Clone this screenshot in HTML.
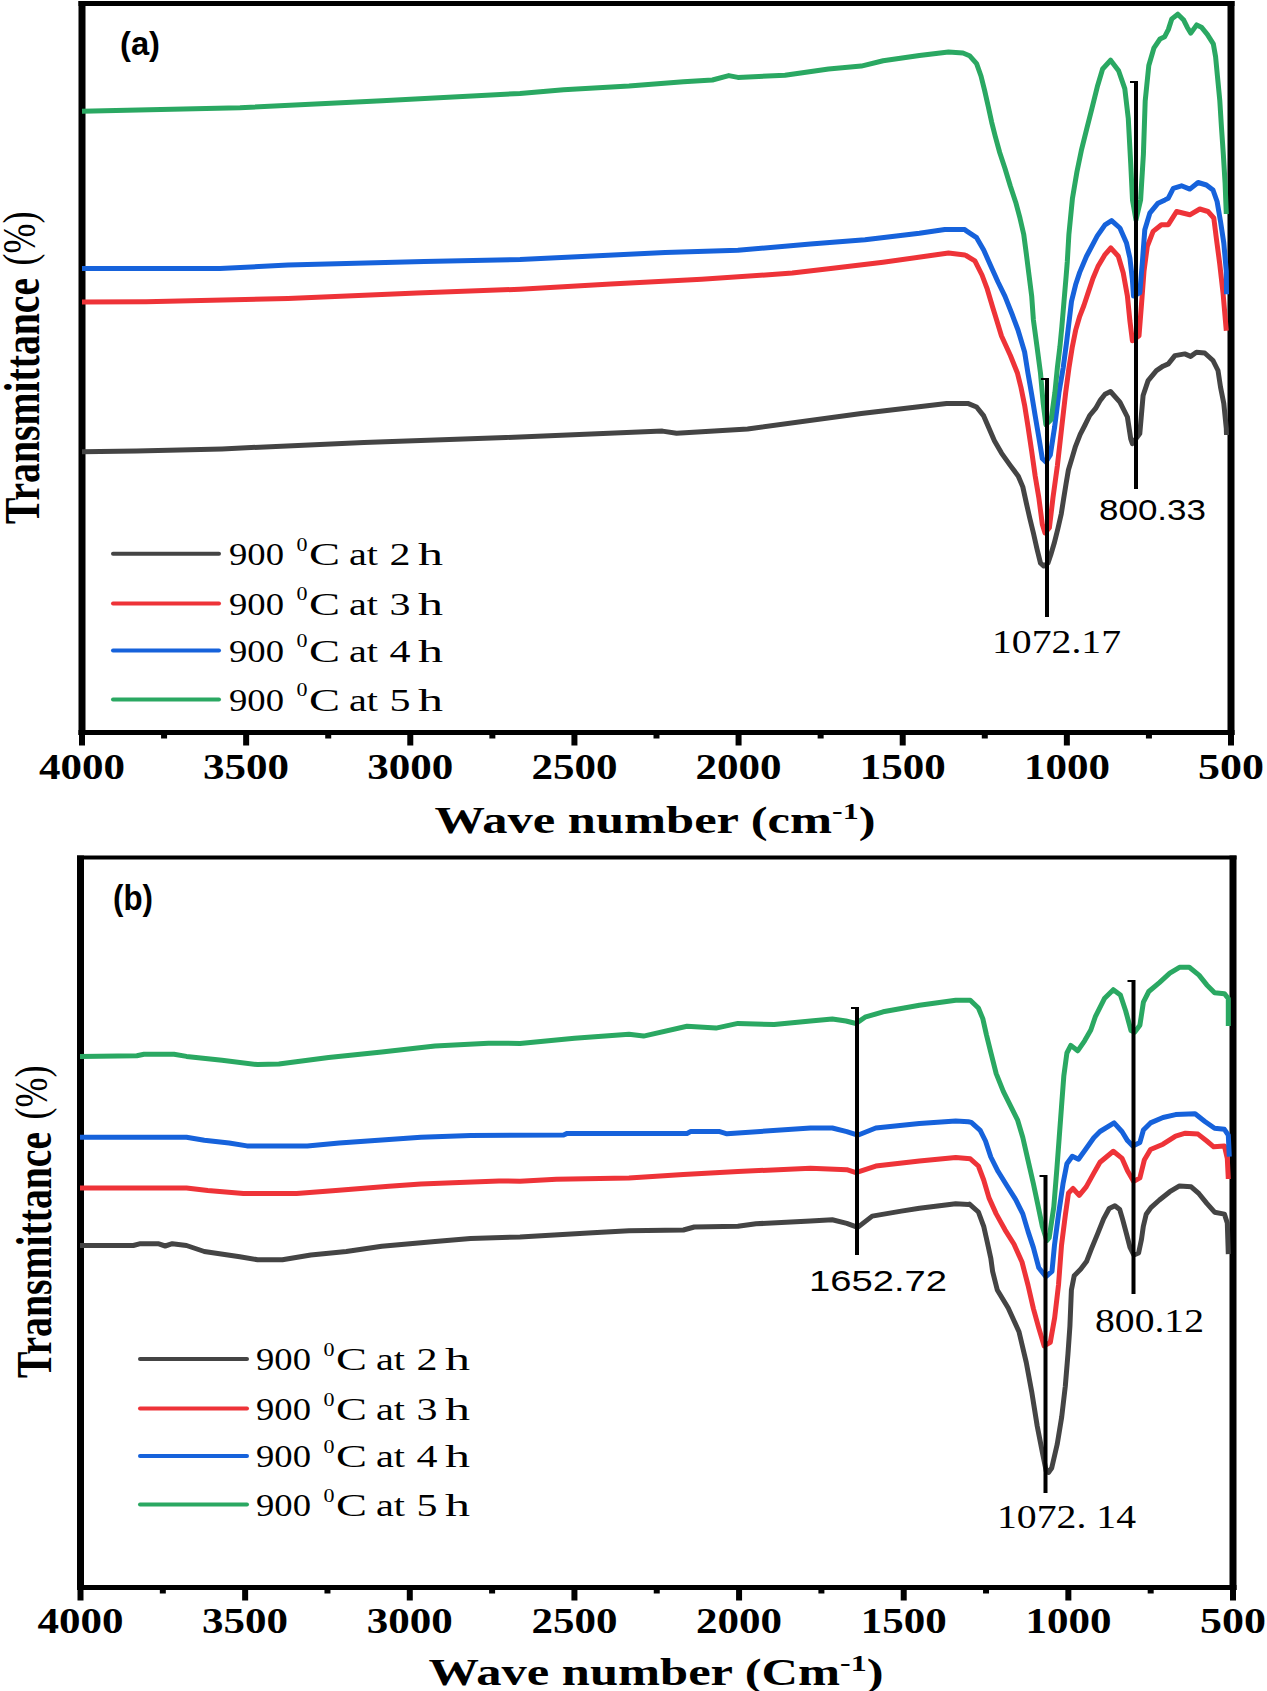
<!DOCTYPE html>
<html><head><meta charset="utf-8"><style>
html,body{margin:0;padding:0;background:#fff;}
svg{display:block;}
</style></head><body>
<svg width="1267" height="1691" viewBox="0 0 1267 1691">
<rect width="1267" height="1691" fill="#fff"/>
<rect x="78.5" y="1.0" width="7" height="734.0" fill="#000"/>
<rect x="1227.5" y="1.0" width="7" height="734.0" fill="#000"/>
<rect x="78.5" y="1.0" width="1156" height="5" fill="#000"/>
<rect x="78.5" y="730.0" width="1156" height="5" fill="#000"/>
<rect x="79.0" y="732.5" width="6" height="13" fill="#000"/>
<text x="82.0" y="779" text-anchor="middle" font-family="Liberation Serif" font-weight="bold" font-size="35" textLength="86" lengthAdjust="spacingAndGlyphs">4000</text>
<rect x="161.07142857142856" y="732.5" width="6" height="6" fill="#000"/>
<rect x="243.14285714285714" y="732.5" width="6" height="13" fill="#000"/>
<text x="246.1" y="779" text-anchor="middle" font-family="Liberation Serif" font-weight="bold" font-size="35" textLength="86" lengthAdjust="spacingAndGlyphs">3500</text>
<rect x="325.2142857142857" y="732.5" width="6" height="6" fill="#000"/>
<rect x="407.2857142857143" y="732.5" width="6" height="13" fill="#000"/>
<text x="410.3" y="779" text-anchor="middle" font-family="Liberation Serif" font-weight="bold" font-size="35" textLength="86" lengthAdjust="spacingAndGlyphs">3000</text>
<rect x="489.35714285714283" y="732.5" width="6" height="6" fill="#000"/>
<rect x="571.4285714285714" y="732.5" width="6" height="13" fill="#000"/>
<text x="574.4" y="779" text-anchor="middle" font-family="Liberation Serif" font-weight="bold" font-size="35" textLength="86" lengthAdjust="spacingAndGlyphs">2500</text>
<rect x="653.5" y="732.5" width="6" height="6" fill="#000"/>
<rect x="735.5714285714286" y="732.5" width="6" height="13" fill="#000"/>
<text x="738.6" y="779" text-anchor="middle" font-family="Liberation Serif" font-weight="bold" font-size="35" textLength="86" lengthAdjust="spacingAndGlyphs">2000</text>
<rect x="817.6428571428571" y="732.5" width="6" height="6" fill="#000"/>
<rect x="899.7142857142857" y="732.5" width="6" height="13" fill="#000"/>
<text x="902.7" y="779" text-anchor="middle" font-family="Liberation Serif" font-weight="bold" font-size="35" textLength="86" lengthAdjust="spacingAndGlyphs">1500</text>
<rect x="981.7857142857142" y="732.5" width="6" height="6" fill="#000"/>
<rect x="1063.857142857143" y="732.5" width="6" height="13" fill="#000"/>
<text x="1066.9" y="779" text-anchor="middle" font-family="Liberation Serif" font-weight="bold" font-size="35" textLength="86" lengthAdjust="spacingAndGlyphs">1000</text>
<rect x="1145.9285714285716" y="732.5" width="6" height="6" fill="#000"/>
<rect x="1228.0" y="732.5" width="6" height="13" fill="#000"/>
<text x="1231.0" y="779" text-anchor="middle" font-family="Liberation Serif" font-weight="bold" font-size="35" textLength="66" lengthAdjust="spacingAndGlyphs">500</text>
<rect x="77.0" y="855.5" width="7" height="734.5" fill="#000"/>
<rect x="1229.5" y="855.5" width="7" height="734.5" fill="#000"/>
<rect x="77.0" y="855.5" width="1159.5" height="4" fill="#000"/>
<rect x="77.0" y="1585.0" width="1159.5" height="5" fill="#000"/>
<rect x="77.5" y="1587.5" width="6" height="13" fill="#000"/>
<text x="80.5" y="1633" text-anchor="middle" font-family="Liberation Serif" font-weight="bold" font-size="35" textLength="86" lengthAdjust="spacingAndGlyphs">4000</text>
<rect x="159.82142857142856" y="1587.5" width="6" height="6" fill="#000"/>
<rect x="242.14285714285714" y="1587.5" width="6" height="13" fill="#000"/>
<text x="245.1" y="1633" text-anchor="middle" font-family="Liberation Serif" font-weight="bold" font-size="35" textLength="86" lengthAdjust="spacingAndGlyphs">3500</text>
<rect x="324.4642857142857" y="1587.5" width="6" height="6" fill="#000"/>
<rect x="406.7857142857143" y="1587.5" width="6" height="13" fill="#000"/>
<text x="409.8" y="1633" text-anchor="middle" font-family="Liberation Serif" font-weight="bold" font-size="35" textLength="86" lengthAdjust="spacingAndGlyphs">3000</text>
<rect x="489.10714285714283" y="1587.5" width="6" height="6" fill="#000"/>
<rect x="571.4285714285714" y="1587.5" width="6" height="13" fill="#000"/>
<text x="574.4" y="1633" text-anchor="middle" font-family="Liberation Serif" font-weight="bold" font-size="35" textLength="86" lengthAdjust="spacingAndGlyphs">2500</text>
<rect x="653.75" y="1587.5" width="6" height="6" fill="#000"/>
<rect x="736.0714285714286" y="1587.5" width="6" height="13" fill="#000"/>
<text x="739.1" y="1633" text-anchor="middle" font-family="Liberation Serif" font-weight="bold" font-size="35" textLength="86" lengthAdjust="spacingAndGlyphs">2000</text>
<rect x="818.3928571428571" y="1587.5" width="6" height="6" fill="#000"/>
<rect x="900.7142857142857" y="1587.5" width="6" height="13" fill="#000"/>
<text x="903.7" y="1633" text-anchor="middle" font-family="Liberation Serif" font-weight="bold" font-size="35" textLength="86" lengthAdjust="spacingAndGlyphs">1500</text>
<rect x="983.0357142857142" y="1587.5" width="6" height="6" fill="#000"/>
<rect x="1065.357142857143" y="1587.5" width="6" height="13" fill="#000"/>
<text x="1068.4" y="1633" text-anchor="middle" font-family="Liberation Serif" font-weight="bold" font-size="35" textLength="86" lengthAdjust="spacingAndGlyphs">1000</text>
<rect x="1147.6785714285716" y="1587.5" width="6" height="6" fill="#000"/>
<rect x="1230.0" y="1587.5" width="6" height="13" fill="#000"/>
<text x="1233.0" y="1633" text-anchor="middle" font-family="Liberation Serif" font-weight="bold" font-size="35" textLength="66" lengthAdjust="spacingAndGlyphs">500</text>
<polyline points="82.0,451.7 136.8,451.0 222.0,448.9 364.0,442.5 506.0,437.5 662.4,431.1 676.6,433.3 747.6,429.0 861.3,413.4 946.6,403.4 967.8,403.4 976.6,407.0 983.7,415.9 989.0,428.3 994.4,440.7 1001.5,453.1 1010.4,465.6 1018.3,476.2 1022.8,486.9 1026.3,502.9 1029.9,518.8 1033.4,533.0 1037.0,549.0 1040.5,563.2 1043.8,566.0 1048.0,563.0 1050.7,555.0 1054.2,543.3 1057.8,529.0 1061.3,513.7 1063.7,498.3 1066.0,484.1 1068.4,470.0 1072.0,458.1 1075.5,446.3 1080.2,434.4 1085.0,425.0 1089.7,415.5 1095.6,408.4 1100.4,400.1 1105.0,394.2 1110.5,391.5 1119.9,402.1 1127.4,417.0 1130.7,438.6 1132.4,443.6 1139.8,433.6 1143.1,395.5 1148.1,380.6 1156.4,370.6 1163.0,366.2 1168.3,363.9 1174.9,355.6 1184.8,353.9 1190.6,356.4 1196.4,352.3 1204.7,353.0 1213.0,360.5 1218.0,370.5 1220.5,387.0 1223.8,403.6 1226.3,428.4 1226.5,435.0" fill="none" stroke="#444444" stroke-width="5" stroke-linejoin="round" stroke-linecap="butt"/>
<polyline points="82.0,302.0 146.0,301.8 288.0,298.5 417.0,293.0 520.0,289.2 610.8,284.0 701.6,279.3 792.3,273.1 828.6,268.7 883.1,262.2 948.5,253.1 964.8,255.0 966.0,255.5 974.9,260.8 982.0,275.0 987.3,289.2 992.6,307.0 996.0,318.0 1001.5,336.0 1010.4,355.5 1017.5,373.3 1021.0,387.5 1024.6,405.2 1028.0,426.5 1031.7,451.4 1035.2,476.2 1038.8,497.5 1042.3,524.2 1045.0,533.0 1049.4,527.7 1053.0,497.5 1057.4,465.6 1061.8,426.5 1065.7,392.4 1069.0,367.6 1072.3,346.9 1075.6,330.4 1079.7,316.3 1083.9,305.5 1088.0,293.1 1093.0,278.2 1097.9,266.6 1105.0,254.6 1110.8,248.0 1118.3,256.2 1123.2,272.8 1127.4,296.0 1129.9,320.9 1132.4,340.8 1139.0,335.8 1141.5,304.3 1144.0,271.2 1147.3,246.3 1153.1,231.4 1161.4,224.8 1168.3,224.7 1176.6,211.5 1189.8,214.8 1199.8,209.0 1208.0,211.5 1213.8,218.0 1216.3,238.0 1219.6,262.8 1223.0,292.6 1226.3,330.7" fill="none" stroke="#ee3338" stroke-width="5" stroke-linejoin="round" stroke-linecap="butt"/>
<polyline points="82.0,268.5 220.0,268.5 288.0,265.0 424.0,261.5 520.0,259.5 592.6,256.0 665.2,252.4 737.9,250.2 810.5,244.0 865.0,239.7 919.4,233.2 944.8,229.5 964.8,229.5 966.0,230.6 976.6,237.7 983.7,250.0 990.8,266.0 998.0,282.0 1005.0,296.3 1012.0,314.0 1018.0,330.0 1024.6,352.0 1028.0,373.3 1031.7,394.6 1035.2,415.9 1038.8,437.2 1042.3,458.5 1045.9,462.0 1050.3,455.0 1054.7,426.5 1059.0,392.4 1063.2,367.6 1066.5,342.8 1069.0,322.1 1071.5,301.4 1075.6,284.8 1079.7,272.4 1086.4,256.5 1097.3,235.9 1105.0,224.8 1111.6,220.6 1119.9,228.0 1126.5,243.0 1129.9,258.0 1132.4,279.5 1133.5,296.0 1139.8,292.7 1142.3,262.9 1144.8,229.7 1149.8,213.2 1158.0,203.2 1165.0,199.9 1168.3,198.2 1173.3,188.3 1181.5,185.8 1189.8,189.1 1198.1,182.5 1206.4,185.0 1213.0,190.0 1217.1,201.5 1220.5,221.4 1223.8,243.0 1226.3,271.1 1226.5,294.3" fill="none" stroke="#1662db" stroke-width="5" stroke-linejoin="round" stroke-linecap="butt"/>
<polyline points="82.0,111.2 240.0,107.7 382.0,100.8 520.0,93.4 563.6,89.7 629.0,86.1 683.4,81.8 712.4,80.0 728.8,75.6 737.9,77.4 785.0,75.2 828.6,69.0 861.3,66.1 883.1,60.7 919.4,55.6 948.5,52.0 963.0,53.0 969.5,55.7 976.6,63.7 981.0,76.0 984.6,90.4 988.2,106.3 991.7,122.3 995.3,136.5 999.7,152.5 1005.0,168.5 1010.4,186.2 1015.7,202.2 1020.0,218.2 1023.7,234.2 1026.3,253.7 1029.0,275.0 1031.7,296.3 1033.4,320.0 1037.0,346.6 1040.5,373.3 1043.2,403.4 1045.9,424.7 1051.2,419.4 1054.9,392.4 1057.4,367.6 1059.9,346.9 1061.9,326.2 1064.0,301.4 1066.1,276.6 1067.3,261.7 1068.9,234.2 1072.4,198.7 1076.9,172.0 1081.3,150.7 1086.6,129.4 1092.0,108.1 1097.3,86.8 1102.6,69.0 1110.6,60.2 1118.6,70.8 1124.8,88.6 1128.3,118.8 1130.7,163.1 1132.5,200.0 1136.0,220.0 1140.6,200.0 1143.4,154.3 1145.2,101.0 1148.8,65.5 1154.0,47.8 1160.0,39.0 1164.7,36.7 1168.3,29.6 1171.8,18.9 1177.8,14.2 1183.7,20.1 1187.2,27.2 1190.8,33.1 1196.7,24.9 1201.4,27.2 1207.3,34.3 1213.3,43.8 1215.6,56.8 1217.4,75.7 1219.8,100.6 1221.5,127.8 1223.3,153.8 1225.1,183.4 1226.3,214.0" fill="none" stroke="#2aa862" stroke-width="5" stroke-linejoin="round" stroke-linecap="butt"/>
<polyline points="80.0,1245.5 133.3,1245.5 140.4,1243.7 158.1,1243.7 165.2,1246.0 172.3,1243.7 186.5,1245.5 204.3,1251.5 239.8,1256.8 257.6,1259.7 282.4,1259.7 310.8,1255.0 346.3,1251.5 381.8,1246.2 435.1,1241.5 470.6,1238.4 520.0,1237.0 592.6,1232.8 629.0,1230.7 683.4,1230.0 694.3,1227.0 737.9,1226.3 756.0,1223.8 810.5,1220.9 832.3,1219.8 846.8,1223.4 857.7,1227.4 872.2,1216.1 901.3,1211.1 919.4,1208.2 955.7,1203.8 968.4,1204.5 969.5,1204.1 978.4,1212.0 983.7,1226.3 987.3,1242.3 990.8,1258.2 992.6,1271.3 997.3,1290.0 1008.2,1308.0 1019.0,1331.7 1026.3,1362.6 1031.7,1391.7 1037.2,1426.0 1042.6,1453.4 1046.3,1471.5 1048.5,1472.5 1051.7,1468.0 1057.2,1444.3 1061.7,1417.0 1065.3,1386.2 1068.0,1353.5 1069.9,1326.3 1071.4,1290.0 1074.2,1275.8 1080.8,1269.1 1086.5,1261.6 1091.3,1249.2 1097.9,1233.1 1103.6,1218.9 1109.2,1208.5 1114.9,1205.7 1119.7,1209.5 1122.5,1218.9 1126.3,1233.1 1130.0,1247.3 1133.9,1255.0 1138.6,1253.0 1141.4,1239.8 1143.3,1226.5 1146.2,1214.2 1150.9,1207.6 1159.4,1200.0 1169.8,1191.7 1179.5,1185.9 1191.2,1186.8 1199.0,1193.7 1206.8,1203.4 1214.6,1212.2 1224.4,1214.1 1227.3,1223.0 1228.3,1254.1" fill="none" stroke="#444444" stroke-width="5" stroke-linejoin="round" stroke-linecap="butt"/>
<polyline points="80.0,1188.1 186.5,1188.1 207.8,1190.6 243.4,1193.5 296.6,1193.5 335.7,1190.6 389.0,1186.3 420.9,1183.9 452.9,1182.8 499.0,1181.0 520.0,1181.2 556.3,1179.2 629.0,1178.1 683.4,1174.4 737.9,1171.5 810.5,1168.3 846.8,1169.7 855.9,1172.6 875.8,1166.1 919.4,1161.0 955.7,1157.4 970.3,1158.8 978.4,1166.0 983.7,1180.0 989.0,1197.9 996.2,1213.9 1005.0,1229.8 1013.9,1244.0 1022.0,1262.0 1028.1,1285.5 1033.4,1308.6 1038.8,1328.1 1044.1,1345.9 1050.3,1342.3 1054.7,1317.5 1058.5,1285.0 1061.5,1245.4 1065.4,1214.6 1068.5,1193.0 1073.0,1188.5 1079.2,1195.4 1086.2,1186.9 1093.8,1173.1 1100.0,1162.3 1113.3,1151.3 1122.1,1158.4 1127.5,1170.8 1133.7,1181.4 1139.9,1177.9 1144.3,1160.1 1150.5,1149.5 1163.0,1144.2 1175.6,1136.1 1185.4,1133.2 1198.0,1134.1 1206.8,1141.0 1213.7,1146.8 1224.4,1145.9 1227.3,1158.5 1228.3,1179.0" fill="none" stroke="#ee3338" stroke-width="5" stroke-linejoin="round" stroke-linecap="butt"/>
<polyline points="80.0,1137.3 186.5,1137.3 204.3,1140.2 229.1,1143.0 246.9,1145.9 307.3,1145.9 339.2,1143.0 389.0,1139.5 420.9,1137.3 470.6,1135.6 563.6,1135.0 567.2,1133.4 687.0,1133.4 690.7,1131.6 719.7,1131.6 727.0,1133.8 810.5,1128.0 832.3,1128.0 846.8,1131.6 857.7,1135.2 875.8,1128.0 919.4,1123.6 955.7,1121.1 968.4,1121.8 971.3,1122.4 980.2,1130.4 985.5,1141.0 990.8,1157.0 998.0,1171.3 1006.8,1185.5 1015.7,1199.7 1022.8,1213.9 1028.1,1231.6 1033.4,1247.6 1038.8,1267.8 1045.9,1276.6 1052.0,1271.3 1054.5,1245.0 1058.5,1214.6 1063.0,1183.8 1066.9,1163.8 1072.3,1156.2 1078.5,1159.2 1086.2,1148.5 1093.8,1137.7 1100.0,1131.5 1114.1,1122.9 1122.1,1131.7 1127.5,1140.6 1132.8,1146.0 1139.9,1142.4 1143.4,1130.0 1150.5,1122.9 1163.0,1117.5 1175.6,1114.6 1195.1,1113.7 1204.9,1121.5 1214.6,1128.3 1224.4,1129.3 1228.3,1135.1 1229.3,1156.6" fill="none" stroke="#1662db" stroke-width="5" stroke-linejoin="round" stroke-linecap="butt"/>
<polyline points="80.0,1056.4 136.8,1055.7 144.0,1054.3 174.0,1054.3 186.5,1056.4 222.0,1060.3 257.6,1064.6 278.9,1063.9 328.6,1057.5 381.8,1052.1 435.0,1046.1 488.4,1043.3 520.0,1043.4 574.5,1038.3 629.0,1034.3 643.5,1036.1 687.0,1026.3 716.0,1028.1 737.9,1023.4 774.2,1024.5 810.5,1020.9 832.3,1019.0 846.0,1021.0 856.0,1023.5 865.0,1017.2 883.1,1011.8 919.4,1005.3 955.7,1000.2 970.3,1000.2 978.4,1008.0 982.8,1018.6 986.4,1034.6 990.8,1052.3 996.2,1073.6 1003.3,1091.4 1010.4,1105.6 1017.5,1119.8 1022.8,1137.5 1028.1,1160.6 1033.4,1183.7 1037.9,1205.0 1042.3,1226.3 1046.8,1240.5 1049.2,1237.7 1053.8,1206.9 1056.9,1168.5 1059.2,1137.7 1061.5,1106.9 1063.8,1076.2 1066.9,1053.0 1070.8,1045.4 1077.7,1050.8 1084.6,1040.8 1090.8,1030.0 1095.5,1016.3 1104.4,998.6 1113.3,989.7 1120.4,995.0 1125.7,1011.0 1131.0,1030.5 1134.6,1032.3 1139.9,1025.2 1143.4,1002.1 1148.8,991.5 1159.4,982.6 1169.8,973.2 1179.5,967.3 1189.3,967.3 1199.0,975.1 1206.8,984.9 1214.6,992.7 1224.4,993.7 1228.3,998.5 1228.3,1025.9" fill="none" stroke="#2aa862" stroke-width="5" stroke-linejoin="round" stroke-linecap="butt"/>
<rect x="1045.0" y="378" width="4" height="239" fill="#000"/><rect x="1041.0" y="378" width="5" height="2" fill="#000"/>
<rect x="1134.0" y="81" width="4" height="408" fill="#000"/><rect x="1130.0" y="81" width="5" height="2" fill="#000"/>
<rect x="1043.5" y="1175" width="4" height="318" fill="#000"/><rect x="1039.5" y="1175" width="5" height="2" fill="#000"/>
<rect x="1131.5" y="980" width="4" height="314" fill="#000"/><rect x="1127.5" y="980" width="5" height="2" fill="#000"/>
<rect x="855.0" y="1007" width="4" height="248" fill="#000"/><rect x="851.0" y="1007" width="5" height="2" fill="#000"/>
<text x="992" y="653" font-family="Liberation Serif" font-size="33" textLength="129" lengthAdjust="spacingAndGlyphs">1072.17</text>
<text x="1099" y="520" font-family="Liberation Sans" font-size="30" textLength="107" lengthAdjust="spacingAndGlyphs">800.33</text>
<text x="809" y="1291" font-family="Liberation Sans" font-size="30" textLength="138" lengthAdjust="spacingAndGlyphs">1652.72</text>
<text x="1095" y="1331.5" font-family="Liberation Serif" font-size="33" textLength="109" lengthAdjust="spacingAndGlyphs">800.12</text>
<text x="997" y="1528" font-family="Liberation Serif" font-size="33" textLength="139" lengthAdjust="spacingAndGlyphs">1072. 14</text>
<text x="120" y="55" font-family="Liberation Sans" font-weight="bold" font-size="34" textLength="40" lengthAdjust="spacingAndGlyphs">(a)</text>
<text x="113" y="910" font-family="Liberation Sans" font-weight="bold" font-size="35" textLength="40" lengthAdjust="spacingAndGlyphs">(b)</text>
<line x1="113" y1="553.8" x2="219" y2="553.8" stroke="#444444" stroke-width="4" stroke-linecap="round"/>
<text x="229" y="565.1999999999999" font-family="Liberation Serif" font-size="32" textLength="55" lengthAdjust="spacingAndGlyphs">900</text>
<text x="296.5" y="550.6999999999999" font-family="Liberation Serif" font-size="19" textLength="11" lengthAdjust="spacingAndGlyphs">0</text>
<text x="309" y="565.1999999999999" font-family="Liberation Serif" font-size="32" textLength="31" lengthAdjust="spacingAndGlyphs">C</text>
<text x="349" y="565.1999999999999" font-family="Liberation Serif" font-size="32" textLength="29" lengthAdjust="spacingAndGlyphs">at</text>
<text x="389.5" y="565.1999999999999" font-family="Liberation Serif" font-size="32" textLength="21" lengthAdjust="spacingAndGlyphs">2</text>
<text x="418" y="565.1999999999999" font-family="Liberation Serif" font-size="32" textLength="25" lengthAdjust="spacingAndGlyphs">h</text>
<line x1="113" y1="603.5" x2="219" y2="603.5" stroke="#ee3338" stroke-width="4" stroke-linecap="round"/>
<text x="229" y="614.9" font-family="Liberation Serif" font-size="32" textLength="55" lengthAdjust="spacingAndGlyphs">900</text>
<text x="296.5" y="600.4" font-family="Liberation Serif" font-size="19" textLength="11" lengthAdjust="spacingAndGlyphs">0</text>
<text x="309" y="614.9" font-family="Liberation Serif" font-size="32" textLength="31" lengthAdjust="spacingAndGlyphs">C</text>
<text x="349" y="614.9" font-family="Liberation Serif" font-size="32" textLength="29" lengthAdjust="spacingAndGlyphs">at</text>
<text x="389.5" y="614.9" font-family="Liberation Serif" font-size="32" textLength="21" lengthAdjust="spacingAndGlyphs">3</text>
<text x="418" y="614.9" font-family="Liberation Serif" font-size="32" textLength="25" lengthAdjust="spacingAndGlyphs">h</text>
<line x1="113" y1="650.5" x2="219" y2="650.5" stroke="#1662db" stroke-width="4" stroke-linecap="round"/>
<text x="229" y="661.9" font-family="Liberation Serif" font-size="32" textLength="55" lengthAdjust="spacingAndGlyphs">900</text>
<text x="296.5" y="647.4" font-family="Liberation Serif" font-size="19" textLength="11" lengthAdjust="spacingAndGlyphs">0</text>
<text x="309" y="661.9" font-family="Liberation Serif" font-size="32" textLength="31" lengthAdjust="spacingAndGlyphs">C</text>
<text x="349" y="661.9" font-family="Liberation Serif" font-size="32" textLength="29" lengthAdjust="spacingAndGlyphs">at</text>
<text x="389.5" y="661.9" font-family="Liberation Serif" font-size="32" textLength="21" lengthAdjust="spacingAndGlyphs">4</text>
<text x="418" y="661.9" font-family="Liberation Serif" font-size="32" textLength="25" lengthAdjust="spacingAndGlyphs">h</text>
<line x1="113" y1="699.5" x2="219" y2="699.5" stroke="#2aa862" stroke-width="4" stroke-linecap="round"/>
<text x="229" y="710.9" font-family="Liberation Serif" font-size="32" textLength="55" lengthAdjust="spacingAndGlyphs">900</text>
<text x="296.5" y="696.4" font-family="Liberation Serif" font-size="19" textLength="11" lengthAdjust="spacingAndGlyphs">0</text>
<text x="309" y="710.9" font-family="Liberation Serif" font-size="32" textLength="31" lengthAdjust="spacingAndGlyphs">C</text>
<text x="349" y="710.9" font-family="Liberation Serif" font-size="32" textLength="29" lengthAdjust="spacingAndGlyphs">at</text>
<text x="389.5" y="710.9" font-family="Liberation Serif" font-size="32" textLength="21" lengthAdjust="spacingAndGlyphs">5</text>
<text x="418" y="710.9" font-family="Liberation Serif" font-size="32" textLength="25" lengthAdjust="spacingAndGlyphs">h</text>
<line x1="140" y1="1359" x2="247" y2="1359" stroke="#444444" stroke-width="4" stroke-linecap="round"/>
<text x="256" y="1370.4" font-family="Liberation Serif" font-size="32" textLength="55" lengthAdjust="spacingAndGlyphs">900</text>
<text x="323.5" y="1355.9" font-family="Liberation Serif" font-size="19" textLength="11" lengthAdjust="spacingAndGlyphs">0</text>
<text x="336" y="1370.4" font-family="Liberation Serif" font-size="32" textLength="31" lengthAdjust="spacingAndGlyphs">C</text>
<text x="376" y="1370.4" font-family="Liberation Serif" font-size="32" textLength="29" lengthAdjust="spacingAndGlyphs">at</text>
<text x="416.5" y="1370.4" font-family="Liberation Serif" font-size="32" textLength="21" lengthAdjust="spacingAndGlyphs">2</text>
<text x="445" y="1370.4" font-family="Liberation Serif" font-size="32" textLength="25" lengthAdjust="spacingAndGlyphs">h</text>
<line x1="140" y1="1408.6" x2="247" y2="1408.6" stroke="#ee3338" stroke-width="4" stroke-linecap="round"/>
<text x="256" y="1420.0" font-family="Liberation Serif" font-size="32" textLength="55" lengthAdjust="spacingAndGlyphs">900</text>
<text x="323.5" y="1405.5" font-family="Liberation Serif" font-size="19" textLength="11" lengthAdjust="spacingAndGlyphs">0</text>
<text x="336" y="1420.0" font-family="Liberation Serif" font-size="32" textLength="31" lengthAdjust="spacingAndGlyphs">C</text>
<text x="376" y="1420.0" font-family="Liberation Serif" font-size="32" textLength="29" lengthAdjust="spacingAndGlyphs">at</text>
<text x="416.5" y="1420.0" font-family="Liberation Serif" font-size="32" textLength="21" lengthAdjust="spacingAndGlyphs">3</text>
<text x="445" y="1420.0" font-family="Liberation Serif" font-size="32" textLength="25" lengthAdjust="spacingAndGlyphs">h</text>
<line x1="140" y1="1456" x2="247" y2="1456" stroke="#1662db" stroke-width="4" stroke-linecap="round"/>
<text x="256" y="1467.4" font-family="Liberation Serif" font-size="32" textLength="55" lengthAdjust="spacingAndGlyphs">900</text>
<text x="323.5" y="1452.9" font-family="Liberation Serif" font-size="19" textLength="11" lengthAdjust="spacingAndGlyphs">0</text>
<text x="336" y="1467.4" font-family="Liberation Serif" font-size="32" textLength="31" lengthAdjust="spacingAndGlyphs">C</text>
<text x="376" y="1467.4" font-family="Liberation Serif" font-size="32" textLength="29" lengthAdjust="spacingAndGlyphs">at</text>
<text x="416.5" y="1467.4" font-family="Liberation Serif" font-size="32" textLength="21" lengthAdjust="spacingAndGlyphs">4</text>
<text x="445" y="1467.4" font-family="Liberation Serif" font-size="32" textLength="25" lengthAdjust="spacingAndGlyphs">h</text>
<line x1="140" y1="1504.6" x2="247" y2="1504.6" stroke="#2aa862" stroke-width="4" stroke-linecap="round"/>
<text x="256" y="1516.0" font-family="Liberation Serif" font-size="32" textLength="55" lengthAdjust="spacingAndGlyphs">900</text>
<text x="323.5" y="1501.5" font-family="Liberation Serif" font-size="19" textLength="11" lengthAdjust="spacingAndGlyphs">0</text>
<text x="336" y="1516.0" font-family="Liberation Serif" font-size="32" textLength="31" lengthAdjust="spacingAndGlyphs">C</text>
<text x="376" y="1516.0" font-family="Liberation Serif" font-size="32" textLength="29" lengthAdjust="spacingAndGlyphs">at</text>
<text x="416.5" y="1516.0" font-family="Liberation Serif" font-size="32" textLength="21" lengthAdjust="spacingAndGlyphs">5</text>
<text x="445" y="1516.0" font-family="Liberation Serif" font-size="32" textLength="25" lengthAdjust="spacingAndGlyphs">h</text>
<text x="655" y="833" text-anchor="middle" font-family="Liberation Serif" font-weight="bold" font-size="38" textLength="441" lengthAdjust="spacingAndGlyphs">Wave number (cm<tspan dy="-14" font-size="24">-1</tspan><tspan dy="14">)</tspan></text>
<text x="656" y="1685" text-anchor="middle" font-family="Liberation Serif" font-weight="bold" font-size="38" textLength="455" lengthAdjust="spacingAndGlyphs">Wave number (Cm<tspan dy="-14" font-size="24">-1</tspan><tspan dy="14">)</tspan></text>
<text transform="translate(38.8,524) rotate(-90)" font-family="Liberation Serif" font-weight="bold" font-size="50" textLength="246" lengthAdjust="spacingAndGlyphs">Transmittance</text>
<text transform="translate(35,265.5) rotate(-90)" font-family="Liberation Serif" font-size="46" textLength="54" lengthAdjust="spacingAndGlyphs">(%)</text>
<text transform="translate(50.5,1378) rotate(-90)" font-family="Liberation Serif" font-weight="bold" font-size="50" textLength="246" lengthAdjust="spacingAndGlyphs">Transmittance</text>
<text transform="translate(46.8,1119.5) rotate(-90)" font-family="Liberation Serif" font-size="46" textLength="54" lengthAdjust="spacingAndGlyphs">(%)</text>
</svg></body></html>
